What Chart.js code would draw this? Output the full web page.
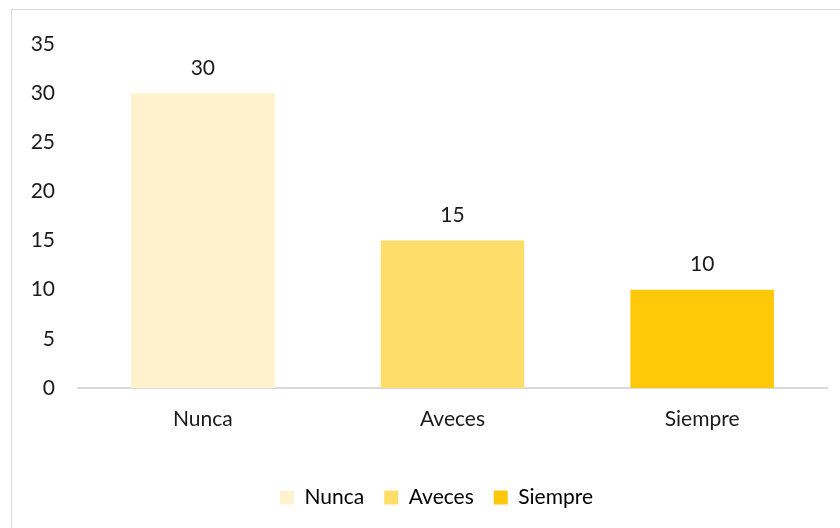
<!DOCTYPE html>
<html>
<head>
<meta charset="utf-8">
<script src="https://cdn.jsdelivr.net/npm/chart.js@4"></script>
<style>
  html, body { margin: 0; padding: 0; background: #fff; overflow: hidden; }
  #wrap { position: relative; width: 840px; height: 528px; }
  #frame { position: absolute; left: 11px; top: 9px; width: 900px; height: 600px; border: 1px solid #d9d9d9; }
  canvas { position: absolute; left: 0; top: 0; }
</style>
</head>
<body>
<div id="wrap">
  <div id="frame"></div>
  <canvas id="grafico" width="840" height="528"></canvas>
</div>
<script>
// dati del grafico
const categorie = ["Nunca", "Aveces", "Siempre"];
const valori = [30, 15, 10];
const colori = ["#FFF2CC", "#FFDD6B", "#FFC90A"];
const tickY = [0, 5, 10, 15, 20, 25, 30, 35];

const fontBase = { family: "Lato, 'Open Sans', sans-serif", size: 21 };

// etichette sopra le barre
const etichette = {
  id: "etichette",
  afterDatasetsDraw(chart) {
    const ctx = chart.ctx;
    const meta = chart.getDatasetMeta(0);
    ctx.save();
    ctx.font = "21px Lato, 'Open Sans', sans-serif";
    ctx.fillStyle = "#1a1a1a";
    ctx.textAlign = "center";
    ctx.textBaseline = "middle";
    meta.data.forEach(function (bar, i) {
      ctx.fillText(valori[i], bar.x, bar.y - 25);
    });
    ctx.restore();
  }
};

// sposta la legenda verso destra come nell'originale
const spostaLegenda = {
  id: "spostaLegenda",
  afterLayout(chart) {
    if (chart.legend) {
      chart.legend.left += 23;
      chart.legend.right += 23;
    }
  }
};

var ctx = document.getElementById("grafico").getContext("2d");
var grafico = new Chart(ctx, {
  type: "bar",
  data: {
    labels: categorie,
    datasets: [
      {
        label: "Serie",
        data: valori,
        backgroundColor: colori,
        borderWidth: 0,
        categoryPercentage: 0.575,
        barPercentage: 1,
      },
    ],
  },
  options: {
    responsive: false,
    animation: false,
    layout: { padding: { left: 0, right: 13, top: 44, bottom: 10 } },
    scales: {
      x: {
        grid: { display: false, drawTicks: false },
        border: { display: true, color: "#d9d9d9", width: 2 },
        ticks: { color: "#1a1a1a", font: fontBase, padding: 19 },
        afterFit: function (scale) { scale.height = 79; },
      },
      y: {
        min: 0,
        max: 35,
        grid: { display: false, drawTicks: false },
        border: { display: false },
        afterBuildTicks: function (scale) {
          scale.ticks = tickY.map(function (v) { return { value: v }; });
        },
        ticks: { color: "#1a1a1a", font: fontBase, padding: 23 },
        afterFit: function (scale) { scale.width = 78; },
      },
    },
    plugins: {
      tooltip: { enabled: false },
      legend: {
        position: "bottom",
        labels: {
          color: "#1a1a1a",
          font: fontBase,
          boxWidth: 14,
          boxHeight: 14,
          padding: 20,
          generateLabels: function () {
            return categorie.map(function (c, i) {
              return { text: c, fillStyle: colori[i], strokeStyle: colori[i], lineWidth: 0, index: i };
            });
          },
        },
      },
    },
  },
  plugins: [etichette, spostaLegenda],
});
</script>
</body>
</html>
